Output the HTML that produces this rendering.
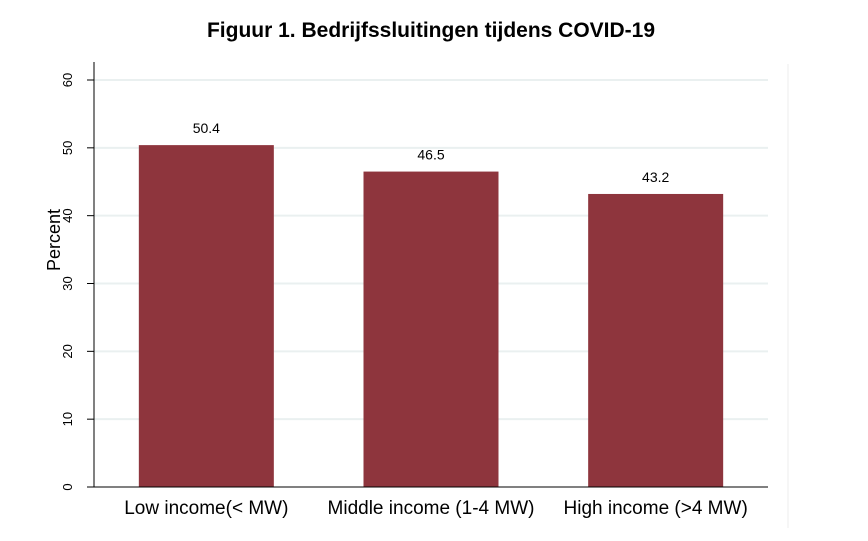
<!DOCTYPE html>
<html><head><meta charset="utf-8"><style>
body{margin:0;background:#fff;}
svg{display:block;font-family:"Liberation Sans",Arial,sans-serif;}
</style></head><body>
<svg id="chart" width="868" height="541">
<text x="431" y="37" text-anchor="middle" font-size="21" font-weight="bold">Figuur 1. Bedrijfssluitingen tijdens COVID-19</text>
<line x1="788" y1="64" x2="788" y2="528" stroke="#eeeeee" stroke-width="1"/>
<text transform="translate(60,240) rotate(-90)" text-anchor="middle" font-size="18">Percent</text>
<g id="grid"></g><g id="bars"></g><g id="axes"></g>
</svg>
<script>
const categories=["Low income(< MW)","Middle income (1-4 MW)","High income (>4 MW)"];
const values=[50.4,46.5,43.2];
const valueLabels=["50.4","46.5","43.2"];
const yTicks=[0,10,20,30,40,50,60];
const NS="http://www.w3.org/2000/svg";
const x0=94,x1=768,y0=487,y60=80;
const yS=v=>y0-(y0-y60)*v/60;
const band=(x1-x0)/3, barW=135;
const xC=i=>x0+band*i+band/2;
function mk(t,a,p,txt){const e=document.createElementNS(NS,t);for(const k in a)e.setAttribute(k,a[k]);if(txt!==undefined)e.textContent=txt;p.appendChild(e);return e;}
const grid=document.getElementById('grid'),bars=document.getElementById('bars'),axes=document.getElementById('axes');
yTicks.forEach(t=>{
  if(t>0){const g=mk('line',{x1:x0,x2:x1,y1:yS(t),y2:yS(t),stroke:'#eaf0f0','stroke-width':2},grid);
  
  }
  const tk=mk('line',{x1:87,x2:x0,y1:yS(t),y2:yS(t),stroke:'#000'},axes);
  
  
  const lb=mk('text',{transform:`translate(72,${yS(t)}) rotate(-90)`,'text-anchor':'middle','font-size':13},axes,String(t));
  
  
});
values.forEach((v,i)=>{
  const r=mk('rect',{x:xC(i)-barW/2,y:yS(v),width:barW,height:y0-yS(v),fill:'#8e353d'},bars);
  
  
  const l=mk('text',{x:xC(i),y:yS(v)-12,'text-anchor':'middle','font-size':14},bars,valueLabels[i]);
  
  
  const c=mk('text',{x:xC(i),y:514,'text-anchor':'middle','font-size':19},axes,categories[i]);
  
  
});
const ya=mk('line',{x1:x0,x2:x0,y1:62,y2:y0,stroke:'#000'},axes);


const xa=mk('line',{x1:x0,x2:x1,y1:y0,y2:y0,stroke:'#000'},axes);


</script>
</body></html>
